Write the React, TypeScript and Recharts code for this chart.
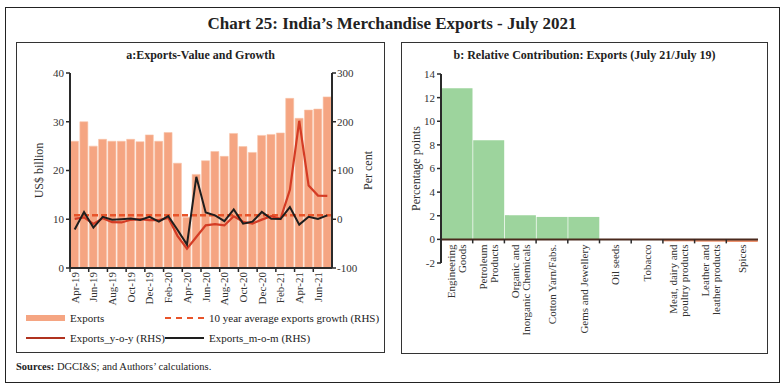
import {
  ComposedChart,
  BarChart,
  Bar,
  Line,
  Cell,
  XAxis,
  YAxis,
  ReferenceLine,
} from "recharts";

// a: exports value and growth
const months = [
  "Apr-19", "May-19", "Jun-19", "Jul-19", "Aug-19", "Sep-19", "Oct-19", "Nov-19", "Dec-19", "Jan-20",
  "Feb-20", "Mar-20", "Apr-20", "May-20", "Jun-20", "Jul-20", "Aug-20", "Sep-20", "Oct-20", "Nov-20",
  "Dec-20", "Jan-21", "Feb-21", "Mar-21", "Apr-21", "May-21", "Jun-21", "Jul-21",
];
const exportsValue = [
  26.0, 30.0, 25.0, 26.4, 26.0, 26.0, 26.4, 25.9, 27.3, 26.0,
  27.8, 21.5, 10.4, 19.2, 22.0, 23.9, 22.9, 27.6, 24.9, 23.7,
  27.2, 27.4, 27.7, 34.8, 30.7, 32.4, 32.6, 35.1,
];
const exportsYoy = [
  0.6, 4, -9.7, 2.2, -6, -6.6, -1.1, 0.3, -1.8, -1.7,
  2.9, -34.6, -60.3, -36.5, -12.4, -10.2, -12.7, 6, -5.1, -8.7,
  -0.8, 6.2, 0.7, 60.3, 202, 69, 48.5, 47.9,
];
const exportsMom = [
  -21, 15, -17, 5, -1, 0, 1.4, -1.5, 5, -5,
  6.5, -22, -52, 87, 14, 8, -4, 20, -9, -5,
  15, 1, 0.5, 25, -11, 5, 0.5, 8,
];
const avgGrowth10y = 8.2;
const leftTicks = [0, 10, 20, 30, 40];
const rightTicks = [-100, 0, 100, 200, 300];

// b: relative contribution
const commodities = [
  "Engineering\nGoods",
  "Petroleum\nProducts",
  "Organic and\nInorganic Chemicals",
  "Cotton Yarn/Fabs.",
  "Gems and Jewellery",
  "Oil seeds",
  "Tobacco",
  "Meat, dairy and\npoultry products",
  "Leather and\nleather products",
  "Spices",
];
const contribution = [12.8, 8.4, 2.05, 1.9, 1.9, -0.05, -0.06, -0.17, -0.2, -0.22];
const contribDomain = [-2, 14];
const contribTicks = [-2, 0, 2, 4, 6, 8, 10, 12, 14];

const monthData = months.map((m, i) => ({
  month: m,
  exports: exportsValue[i],
  yoy: exportsYoy[i],
  mom: exportsMom[i],
}));
const contribData = commodities.map((c, i) => ({ name: c, value: contribution[i] }));

const FONT = "'Liberation Serif', 'Times New Roman', serif";
const BAR_ORANGE = "#F5A582";
const RED = "#D43C25";
const DASH_RED = "#E8542A";
const GREEN = "#9DD49D";
const AXIS = "#2a2a2a";
const tickStyle = { fontSize: 11, fill: "#333", fontFamily: FONT };

const A_W = 369;
const A_PLOT = 262;
const B_W = 367;
const B_PLOT = 317;
const B_TOP = 31;
const B_PLOT_H = 189;

const MonthTick = (props: any) => {
  const { x, y, payload, index } = props;
  if (index % 2 !== 0) return null;
  const bw = A_PLOT / months.length;
  return (
    <g>
      <line x1={x - bw / 2} x2={x - bw / 2} y1={y} y2={y + 4} stroke={AXIS} strokeWidth={1.5} />
      <text
        x={x}
        y={y + 4}
        transform={`rotate(-90, ${x}, ${y + 4})`}
        textAnchor="end"
        dy="0.35em"
        style={tickStyle}
        fill="#333"
      >
        {payload.value}
      </text>
    </g>
  );
};

// category axis crosses the value axis at 0, not at the bottom of the plot
const CommodityTick = (props: any) => {
  const { x, y, payload, index } = props;
  const bw = B_PLOT / commodities.length;
  const zeroShift = ((0 - contribDomain[0]) / (contribDomain[1] - contribDomain[0])) * B_PLOT_H;
  const y0 = y - zeroShift;
  const lines = String(payload.value).split("\n");
  const lh = 11;
  return (
    <g>
      {index < commodities.length - 1 && (
        <line x1={x + bw / 2} x2={x + bw / 2} y1={y0} y2={y0 + 4} stroke={AXIS} strokeWidth={1.5} />
      )}
      <text
        x={x}
        y={y0 + 5}
        transform={`rotate(-90, ${x}, ${y0 + 5})`}
        textAnchor="end"
        style={tickStyle}
        fill="#333"
      >
        {lines.map((l, i) => (
          <tspan key={i} x={x} dy={i === 0 ? -((lines.length - 1) * lh) / 2 + 4 : lh}>
            {l}
          </tspan>
        ))}
      </text>
    </g>
  );
};

const LegendItem = ({ left, top, swatch, text }: { left: number; top: number; swatch: any; text: string }) => (
  <div
    style={{
      position: "absolute",
      left,
      top,
      display: "flex",
      alignItems: "center",
      fontSize: 11,
      color: "#222",
      whiteSpace: "nowrap",
    }}
  >
    <div style={{ width: 39, marginRight: 5, display: "flex", alignItems: "center" }}>{swatch}</div>
    <span>{text}</span>
  </div>
);

export default function App() {
  return (
    <div
      style={{
        position: "absolute",
        left: 0,
        top: 0,
        width: 784,
        height: 389,
        background: "#fff",
        fontFamily: FONT,
        color: "#222",
      }}
    >
      <div style={{ position: "absolute", left: 5, top: 7, width: 773, height: 374, border: "1.5px solid #222" }} />
      <div style={{ position: "absolute", left: 0, width: 784, top: 14, textAlign: "center", fontSize: 17, fontWeight: "bold" }}>
        Chart 25: India’s Merchandise Exports - July 2021
      </div>

      {/* panel a */}
      <div style={{ position: "absolute", left: 16, top: 42, width: A_W - 2, height: 309, border: "1px solid #333" }}>
        <div style={{ position: "absolute", left: 0, width: "100%", top: 5, textAlign: "center", fontSize: 12, fontWeight: "bold" }}>
          a:Exports-Value and Growth
        </div>
        <div style={{ position: "absolute", left: 0, top: 0 }}>
          <ComposedChart
            width={A_W}
            height={300}
            data={monthData}
            margin={{ top: 30, right: 14, bottom: 30, left: 16 }}
            barCategoryGap={0.5}
          >
            <XAxis
              dataKey="month"
              interval={0}
              tick={<MonthTick />}
              tickLine={false}
              tickSize={0}
              tickMargin={0}
              height={45}
              axisLine={{ stroke: AXIS, strokeWidth: 2 }}
            />
            <YAxis
              yAxisId="left"
              domain={[0, 40]}
              ticks={leftTicks}
              width={37}
              tickSize={4}
              tick={tickStyle}
              axisLine={{ stroke: AXIS, strokeWidth: 2 }}
              tickLine={{ stroke: AXIS, strokeWidth: 1.5 }}
              label={{ value: "US$ billion", angle: -90, position: "insideLeft", offset: 6, style: { ...tickStyle, fontSize: 12, textAnchor: "middle" } }}
            />
            <YAxis
              yAxisId="right"
              orientation="right"
              domain={[-100, 300]}
              ticks={rightTicks}
              width={40}
              tickSize={4}
              tickMargin={1}
              tick={tickStyle}
              axisLine={{ stroke: AXIS, strokeWidth: 2 }}
              tickLine={{ stroke: AXIS, strokeWidth: 1.5 }}
              label={{ value: "Per cent", angle: -90, position: "insideRight", offset: 4, style: { ...tickStyle, fontSize: 12, textAnchor: "middle" } }}
            />
            <Bar yAxisId="left" dataKey="exports" fill={BAR_ORANGE} stroke="#F9C4AA" strokeWidth={0.6} isAnimationActive={false} />
            <ReferenceLine yAxisId="right" y={avgGrowth10y} stroke={DASH_RED} strokeWidth={2.5} strokeDasharray="6 3" />
            <Line yAxisId="right" dataKey="yoy" stroke={RED} strokeWidth={2.2} dot={false} isAnimationActive={false} />
            <Line yAxisId="right" dataKey="mom" stroke="#1e1e1e" strokeWidth={2} dot={false} isAnimationActive={false} />
          </ComposedChart>
        </div>
        <LegendItem left={9} top={269} text="Exports" swatch={<div style={{ width: 39, height: 6, background: BAR_ORANGE }} />} />
        <LegendItem
          left={148}
          top={269}
          text="10 year average exports growth (RHS)"
          swatch={<div style={{ width: 39, borderTop: `2.5px dashed ${DASH_RED}` }} />}
        />
        <LegendItem left={9} top={289} text="Exports_y-o-y (RHS)" swatch={<div style={{ width: 39, borderTop: `2px solid #B0321F` }} />} />
        <LegendItem left={148} top={289} text="Exports_m-o-m (RHS)" swatch={<div style={{ width: 39, borderTop: `2px solid #1e1e1e` }} />} />
      </div>

      {/* panel b */}
      <div style={{ position: "absolute", left: 401, top: 42, width: B_W - 2, height: 310, border: "1px solid #333" }}>
        <div style={{ position: "absolute", left: 0, width: "100%", top: 5, textAlign: "center", fontSize: 12, fontWeight: "bold" }}>
          b: Relative Contribution: Exports (July 21/July 19)
        </div>
        <div style={{ position: "absolute", left: 0, top: 0 }}>
          <BarChart
            width={B_W}
            height={308}
            data={contribData}
            margin={{ top: B_TOP, right: 11, bottom: 308 - B_TOP - B_PLOT_H - 80, left: 8 }}
            barCategoryGap={0.5}
          >
            <XAxis
              dataKey="name"
              interval={0}
              tick={<CommodityTick />}
              tickLine={false}
              tickSize={0}
              tickMargin={0}
              height={80}
              axisLine={false}
            />
            <YAxis
              domain={contribDomain}
              ticks={contribTicks}
              width={31}
              tickSize={4}
              tick={tickStyle}
              axisLine={{ stroke: AXIS, strokeWidth: 2 }}
              tickLine={{ stroke: AXIS, strokeWidth: 1.5 }}
              label={{ value: "Percentage points", angle: -90, position: "insideLeft", offset: 6, style: { ...tickStyle, fontSize: 12, textAnchor: "middle" } }}
            />
            <ReferenceLine y={0} stroke="#4a2a1e" strokeWidth={2} />
            <Bar dataKey="value" isAnimationActive={false}>
              {contribData.map((d, i) => (
                <Cell key={i} fill={d.value >= 0 ? GREEN : "#EE9470"} />
              ))}
            </Bar>
          </BarChart>
        </div>
      </div>

      <div style={{ position: "absolute", left: 16, top: 361, fontSize: 10.5 }}>
        <b>Sources:</b> DGCI&amp;S; and Authors’ calculations.
      </div>
    </div>
  );
}
